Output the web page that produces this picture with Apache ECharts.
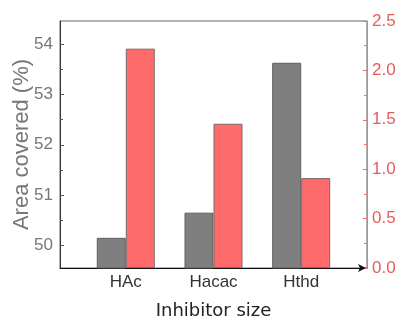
<!DOCTYPE html>
<html><head><meta charset="utf-8">
<script src="https://cdn.jsdelivr.net/npm/echarts@6/dist/echarts.min.js"></script>
<style>html,body{margin:0;padding:0;background:#fff}#c{width:401px;height:320px}</style>
</head><body><div id="c"></div>
<script>
var categories = ['HAc', 'Hacac', 'Hthd'];
var categoryPos = [1, 2, 3];
var areaCovered = [50.15, 50.65, 53.63];
var sizeValues = [2.22, 1.46, 0.91];
var leftTicks = [50, 51, 52, 53, 54];
var leftMinorTicks = [49.5, 50.5, 51.5, 52.5, 53.5];

var chart = echarts.init(document.getElementById('c'), null, {renderer: 'canvas'});
var LEFT_MIN = 49.55, LEFT_MAX = 54.46;
chart.setOption({
  animation: false,
  grid: {left: 60, right: 34, top: 21, bottom: 52, containLabel: false, outerBoundsMode: 'none',
    show: true, borderColor: '#666', borderWidth: 1, backgroundColor: 'transparent'},
  xAxis: [{
    type: 'value', min: 0.25, max: 3.75,
    name: 'Inhibitor size', nameLocation: 'middle', nameGap: 34,
    nameTextStyle: {fontFamily: 'DejaVu Sans', fontSize: 18, color: '#222'},
    axisLine: {show: true, lineStyle: {color: '#111', width: 1}, symbol: ['none', 'arrow'], symbolSize: [6, 8], symbolOffset: [0, -1]},
    axisTick: {show: false},
    splitLine: {show: false},
    axisLabel: {customValues: categoryPos, fontFamily: 'Liberation Sans', fontSize: 17, color: '#333', margin: 6,
      formatter: function (v) { var i = categoryPos.indexOf(v); return i >= 0 ? categories[i] : ''; }}
  }],
  yAxis: [{
    type: 'value', min: LEFT_MIN, max: LEFT_MAX, position: 'left',
    name: 'Area covered (%)', nameLocation: 'middle', nameGap: 27, nameMoveOverlap: false,
    nameTextStyle: {fontFamily: 'Liberation Sans', fontSize: 22, color: '#777'},
    axisLine: {show: true, lineStyle: {color: '#333', width: 1}},
    axisTick: {show: true, inside: true, length: 4, customValues: leftTicks, lineStyle: {color: '#555'}},
    axisLabel: {customValues: leftTicks, fontFamily: 'Liberation Sans', fontSize: 17, color: '#777', margin: 7},
    splitLine: {show: false}
  }, {
    type: 'value', min: 0, max: 2.5, interval: 0.5, position: 'right',
    axisLine: {show: true, lineStyle: {color: '#ff6b6b', width: 1}},
    axisTick: {show: true, inside: true, length: 4, lineStyle: {color: '#ff6b6b'}},
    minorTick: {show: true, splitNumber: 2, length: 3, lineStyle: {color: '#ff6b6b'}},
    axisLabel: {fontFamily: 'Liberation Sans', fontSize: 17, color: '#e65c5c', margin: 5,
      formatter: function (v) { return v.toFixed(1); }},
    splitLine: {show: false}
  }, {
    type: 'value', min: LEFT_MIN, max: LEFT_MAX, position: 'left',
    axisLine: {show: false},
    axisTick: {show: true, inside: true, length: 3, customValues: leftMinorTicks, lineStyle: {color: '#555'}},
    axisLabel: {show: false},
    splitLine: {show: false}
  }],
  series: [{
    type: 'bar', xAxisIndex: 0, yAxisIndex: 0, barWidth: 29, barGap: '0%',
    data: categoryPos.map(function (x, i) { return [x, areaCovered[i]]; }),
    itemStyle: {color: '#7f7f7f', borderColor: '#5e5e5e', borderWidth: 1}
  }, {
    type: 'bar', xAxisIndex: 0, yAxisIndex: 1, barWidth: 29, barGap: '0%',
    data: categoryPos.map(function (x, i) { return [x, sizeValues[i]]; }),
    itemStyle: {color: '#ff6b6b', borderColor: '#7a6a6a', borderWidth: 1}
  }]
});
</script></body></html>
